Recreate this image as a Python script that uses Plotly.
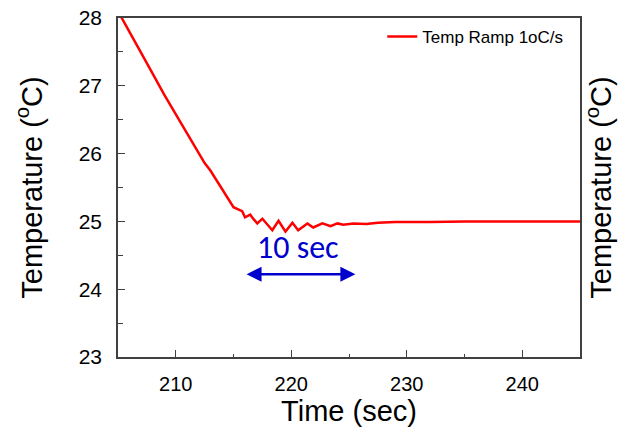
import plotly.graph_objects as go

# Data
time_s = [205.0, 206.0, 207.0, 208.0, 209.0, 210.0, 211.0, 212.0, 212.5, 213.0,
          214.0, 214.5, 215.0, 215.5, 215.75, 216.0, 216.45, 216.7, 217.06, 217.5,
          218.36, 218.9, 219.5, 220.1, 220.6, 221.4, 221.9, 222.7, 223.4, 224.0,
          224.5, 225.4, 226.5, 227.5, 229.0, 232.0, 235.0, 240.0, 245.0]
temp_c = [28.10, 27.80, 27.49, 27.18, 26.87, 26.58, 26.29, 26.00, 25.86, 25.75,
          25.47, 25.33, 25.21, 25.17, 25.15, 25.06, 25.10, 25.04, 24.97, 25.04,
          24.87, 25.01, 24.85, 24.98, 24.87, 24.97, 24.91, 24.97, 24.93, 24.97,
          24.95, 24.97, 24.96, 24.98, 24.99, 24.99, 25.0, 25.0, 25.0]
series_name = "Temp Ramp 1oC/s"

x_range = [205, 245]
y_range = [23, 28]
x_ticks = [210, 220, 230, 240]
y_ticks = [23, 24, 25, 26, 27, 28]

span_label = "10 sec"
span_start, span_end, span_level = 216.0, 225.55, 24.22
label_x, label_y = 220.6, 24.62

FONT = "Liberation Sans, Arial, sans-serif"
AXC = "#404040"

fig = go.Figure()
fig.add_trace(go.Scatter(x=time_s, y=temp_c, mode="lines", name=series_name,
                         line=dict(color="#FF0000", width=2.5)))
# invisible trace to create the right-hand axis
fig.add_trace(go.Scatter(x=[x_range[0]], y=[y_range[0]], yaxis="y2", mode="none",
                         showlegend=False, hoverinfo="skip"))

fig.add_annotation(x=span_end, y=span_level, ax=span_start, ay=span_level,
                   xref="x", yref="y", axref="x", ayref="y", text="",
                   showarrow=True, arrowhead=2, startarrowhead=2, arrowside="end+start",
                   arrowsize=1.2, startarrowsize=1.2, arrowwidth=2.5, arrowcolor="#0000CC",
                   standoff=0, startstandoff=0)
fig.add_annotation(x=label_x, y=label_y, xref="x", yref="y", text=span_label,
                   showarrow=False, font=dict(family="Carlito, Noto Sans, sans-serif",
                                              size=32, color="#0000CC"))

fig.update_layout(
    width=618, height=435,
    margin=dict(l=118, r=38, t=18, b=78, autoexpand=False),
    paper_bgcolor="white", plot_bgcolor="white",
    font=dict(family=FONT, color="black"),
    showlegend=True,
    legend=dict(x=0.572, y=0.997, xanchor="left", yanchor="top",
                bgcolor="rgba(0,0,0,0)", font=dict(size=17, family=FONT)),
    xaxis=dict(range=x_range, tickvals=x_ticks, ticks="inside", ticklen=7, tickwidth=1.2,
               tickcolor=AXC, showline=True, linecolor=AXC, linewidth=1.5, mirror=True,
               showgrid=False, zeroline=False, tickfont=dict(size=20),
               ticklabelstandoff=8,
               minor=dict(dtick=5, ticks="inside", ticklen=3, tickcolor=AXC, tickwidth=1.2),
               title=dict(text="Time (sec)", font=dict(size=29), standoff=4),
               automargin=False),
    yaxis=dict(range=y_range, tickvals=y_ticks, ticks="inside", ticklen=7, tickwidth=1.2,
               tickcolor=AXC, showline=True, linecolor=AXC, linewidth=1.5, mirror=True,
               showgrid=False, zeroline=False, tickfont=dict(size=21),
               ticklabelstandoff=10,
               minor=dict(dtick=0.5, ticks="inside", ticklen=5, tickcolor=AXC, tickwidth=1.2),
               title=dict(text="Temperature (<sup>o</sup>C)", font=dict(size=29), standoff=28),
               automargin=False),
    yaxis2=dict(range=y_range, overlaying="y", side="right", showticklabels=False,
                ticks="", showline=False, showgrid=False, zeroline=False,
                title=dict(text="Temperature (<sup>o</sup>C)", font=dict(size=29), standoff=10),
                automargin=False),
)

fig.write_html("out.html")
